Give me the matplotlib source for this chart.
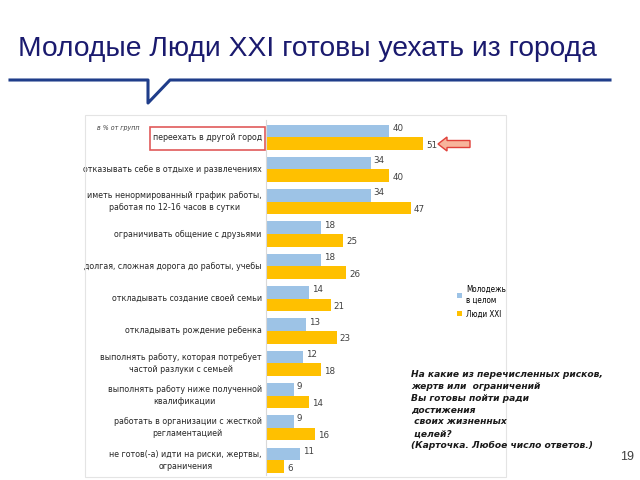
import matplotlib.pyplot as plt
import numpy as np
from matplotlib.patches import Rectangle, FancyArrow

plt.rcParams['font.family'] = ['DejaVu Sans']

# данные
categories = [
    'переехать в другой город',
    'отказывать себе в отдыхе и развлечениях',
    'иметь ненормированный график работы,\nработая по 12-16 часов в сутки',
    'ограничивать общение с друзьями',
    'долгая, сложная дорога до работы, учебы',
    'откладывать создание своей семьи',
    'откладывать рождение ребенка',
    'выполнять работу, которая потребует\nчастой разлуки с семьей',
    'выполнять работу ниже полученной\nквалификации',
    'работать в организации с жесткой\nрегламентацией',
    'не готов(-а) идти на риски, жертвы,\nограничения',
]
youth_total = [40, 34, 34, 18, 18, 14, 13, 12, 9, 9, 11]
people_xxi = [51, 40, 47, 25, 26, 21, 23, 18, 14, 16, 6]
series_names = ['Молодежь\nв целом', 'Люди XXI']

blue = '#9DC3E6'
yellow = '#FFC000'

fig = plt.figure(figsize=(6.4, 4.8), dpi=100)

# заголовок и линия с выносом
fig.text(0.028, 0.897, 'Молодые Люди XXI готовы уехать из города', fontsize=20.3,
         color='#1a1a6e', family='Liberation Sans', va='center')
line_x = np.array([10, 148, 148, 170, 610]) / 640
line_y = 1 - np.array([80, 80, 103, 80, 80]) / 480
fig.add_artist(plt.Line2D(line_x, line_y, color='#1f3d8a', lw=2.2))

# рамка диаграммы
fig.add_artist(Rectangle((85 / 640, 1 - 477 / 480), (506 - 85) / 640, (477 - 115) / 480,
                         fill=False, edgecolor='#e4e4e4', lw=0.8))

ax = fig.add_axes([266 / 640, 1 - 475 / 480, 240 / 640, 355 / 480])
y = np.arange(len(categories))
h = 0.39
ax.barh(y - h / 2, youth_total, height=h, color=blue, label=series_names[0])
ax.barh(y + h / 2, people_xxi, height=h, color=yellow, label=series_names[1])
for i in range(len(categories)):
    ax.text(youth_total[i] + 1, y[i] - h / 2 - 0.08, str(youth_total[i]), fontsize=6.3,
            color='#404040', va='center')
    ax.text(people_xxi[i] + 1, y[i] + h / 2 + 0.05, str(people_xxi[i]), fontsize=6.3,
            color='#404040', va='center')
ax.set_xlim(0, 78)
ax.set_ylim(10.46, -0.53)
ax.set_xticks([])
ax.set_yticks([])
for s in ['top', 'right', 'bottom']:
    ax.spines[s].set_visible(False)
ax.spines['left'].set_color('#d9d9d9')

# подписи категорий
for i, c in enumerate(categories):
    ax.text(-1.4, y[i], c, ha='right', va='center', multialignment='center',
            fontsize=6.3, fontstretch='condensed', color='#262626', linespacing=1.4)

fig.add_artist(Rectangle((150 / 640, 1 - 150 / 480), 115 / 640, 23 / 480,
                         fill=False, edgecolor='#e05a5a', lw=1.2))
fig.text(97 / 640, 1 - 128 / 480, 'в % от групп', fontsize=5, style='italic',
         color='#404040', va='center', fontstretch='condensed')

# стрелка
fig.add_artist(FancyArrow(470 / 640, 1 - 144 / 480, -32 / 640, 0, width=7 / 480,
                          head_width=14 / 480, head_length=9 / 640,
                          length_includes_head=True, facecolor='#f7b49b',
                          edgecolor='#e0403a', lw=1, transform=fig.transFigure))

fig.legend(loc='upper left', bbox_to_anchor=(450 / 640, 1 - 278 / 480), frameon=False,
           handlelength=0.6, handleheight=0.6, handletextpad=0.5,
           labelspacing=0.6, prop={'size': 5.8, 'stretch': 'condensed'})

question = ('На какие из перечисленных рисков,\n'
            'жертв или  ограничений\n'
            'Вы готовы пойти ради\n'
            'достижения\n'
            ' своих жизненных\n'
            ' целей?\n'
            '(Карточка. Любое число ответов.)')
fig.text(411 / 640, 1 - 410 / 480, question, fontsize=6.6, style='italic', weight='bold',
         family='DejaVu Sans', va='center', linespacing=1.42, color='#1a1a1a')
fig.text(620 / 640, 1 - 457 / 480, '19', fontsize=9, color='#404040',
         family='Liberation Sans', va='center')

fig.savefig('out.png', dpi=100)
